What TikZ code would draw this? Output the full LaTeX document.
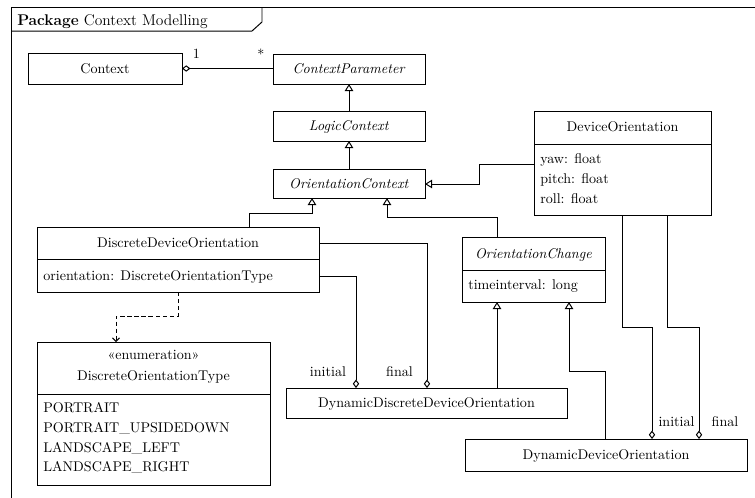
\documentclass[tikz,border=0pt]{standalone}
\usetikzlibrary{arrows.meta}
% one drawing unit = 0.71pt; y grows downwards
\newcommand\umlrect[5]{\node[box, minimum width={(#4-#2)*0.71pt}, minimum height={(#5-#3)*0.71pt}] (#1) at (#2,#3) {};}
\begin{document}
\begin{tikzpicture}[x=0.71pt,y=-0.71pt,
  every node/.style={font=\fontsize{10}{12}\selectfont},
  box/.style={draw, line width=0.7pt, inner sep=0, outer sep=0, anchor=north west},
  txt/.style={inner sep=0, anchor=base},
  attr/.style={inner sep=0, anchor=base west},
  conn/.style={line width=0.7pt},
  gen/.style={conn, -{Triangle[open, length=5pt, width=6pt]}},
  agg/.style={conn, -{Diamond[open, length=6pt, width=4.5pt]}},
  dep/.style={conn, dash pattern=on 3pt off 2pt, -{Straight Barb[length=2.5pt, width=5pt]}},
]
\useasboundingbox (0,0) rectangle (755,497);
\clip (0,0) rectangle (755,497);

% package frame and its tab
\draw[conn] (11,530) -- (11,7) -- (790,7);
\draw[conn] (11,31) -- (252,31) -- (262,22) -- (262,7);
\node[attr, font=\fontsize{11}{13}\selectfont] (pkg) at (17,25) {\textbf{Package} Context Modelling};

% classes
\umlrect{ctx}{28}{53}{182}{84}
\node[txt] (ctxT) at (105,73) {Context};

\umlrect{cp}{273}{54}{425}{84}
\node[txt] (cpT) at (349,73.5) {\textit{ContextParameter}};

\umlrect{lc}{273}{111}{425}{141}
\node[txt] (lcT) at (349,130.5) {\textit{LogicContext}};

\umlrect{oc}{273}{169}{425}{198}
\node[txt] (ocT) at (349,188) {\textit{OrientationContext}};

\umlrect{devo}{534}{111}{711}{144}
\umlrect{devoA}{534}{144}{711}{215}
\node[txt] (devoT) at (622.5,131.5) {DeviceOrientation};
\node[attr] (devo1) at (540,163) {yaw: float};
\node[attr] (devo2) at (540,183) {pitch: float};
\node[attr] (devo3) at (540,203) {roll: float};

\umlrect{ddo}{37}{227}{319}{259}
\umlrect{ddoA}{37}{259}{319}{292}
\node[txt] (ddoT) at (178,247.5) {DiscreteDeviceOrientation};
\node[attr] (ddo1) at (43,280) {orientation: DiscreteOrientationType};

\umlrect{och}{462}{237}{605}{270}
\umlrect{ochA}{462}{270}{605}{302}
\node[txt] (ochT) at (533.5,258) {\textit{OrientationChange}};
\node[attr] (och1) at (468,289.5) {timeinterval: long};

\umlrect{dot}{37}{342}{270}{394}
\umlrect{dotA}{37}{394}{270}{485}
\node[txt] (dotS) at (153.5,359.5) {«enumeration»};
\node[txt] (dotT) at (153.5,380.5) {DiscreteOrientationType};
\node[attr] (dot1) at (43,412.5) {PORTRAIT};
\node[attr] (dot2) at (43,432.5) {PORTRAIT\_UPSIDEDOWN};
\node[attr] (dot3) at (43,452) {LANDSCAPE\_LEFT};
\node[attr] (dot4) at (43,471) {LANDSCAPE\_RIGHT};

\umlrect{dddo}{286}{388}{567}{418}
\node[txt] (dddoT) at (426.5,407) {DynamicDiscreteDeviceOrientation};

\umlrect{ddevo}{465}{439}{747}{471}
\node[txt] (ddevoT) at (606,459.5) {DynamicDeviceOrientation};

% association Context <>-- ContextParameter
\draw[agg] (ctx.east -| cp.west) -- (ctx.east);
\node[txt] (m1) at (196.5,58.5) {1};
\node[txt] (m2) at (261,59) {*};

% generalizations
\draw[gen] (lc.north) -- (cp.south);
\draw[gen] (oc.north) -- (lc.south);

\coordinate (k1) at (479,164);
\coordinate (k2) at (479,184);
\draw[gen] (k1 -| devo.west) -- (k1) -- (k2) -- (k2 -| oc.east);

\coordinate (b1) at (249,213);
\coordinate (b2) at (312,213);
\draw[gen] (b1 |- ddo.north) -- (b1) -- (b2) -- (b2 |- oc.south);

\coordinate (b3) at (497,217);
\coordinate (b4) at (387,217);
\draw[gen] (b3 |- och.north) -- (b3) -- (b4) -- (b4 |- oc.south);

\draw[gen] (b3 |- dddo.north) -- (b3 |- ochA.south);

\coordinate (d1) at (605,371);
\coordinate (d2) at (569,371);
\draw[gen] (d1 |- ddevo.north) -- (d1) -- (d2) -- (d2 |- ochA.south);

% aggregations initial / final
\coordinate (c1) at (427,243);
\coordinate (c2) at (356,276);
\draw[agg] (c1 -| ddo.east) -- (c1) -- (c1 |- dddo.north);
\draw[agg] (c2 -| ddoA.east) -- (c2) -- (c2 |- dddo.north);
\node[txt] (l1) at (328,376) {initial};
\node[txt] (l2) at (399.5,376) {final};

\coordinate (e1) at (622,327);
\coordinate (e2) at (652,327);
\coordinate (e3) at (667,327);
\coordinate (e4) at (699,327);
\draw[agg] (e1 |- devoA.south) -- (e1) -- (e2) -- (e2 |- ddevo.north);
\draw[agg] (e3 |- devoA.south) -- (e3) -- (e4) -- (e4 |- ddevo.north);
\node[txt] (l3) at (676.5,426.5) {initial};
\node[txt] (l4) at (725,426.5) {final};

% dependency to the enumeration
\coordinate (f1) at (178,316);
\coordinate (f2) at (116,316);
\draw[dep] (f1 |- ddoA.south) -- (f1) -- (f2) -- (f2 |- dot.north);
\end{tikzpicture}
\end{document}
